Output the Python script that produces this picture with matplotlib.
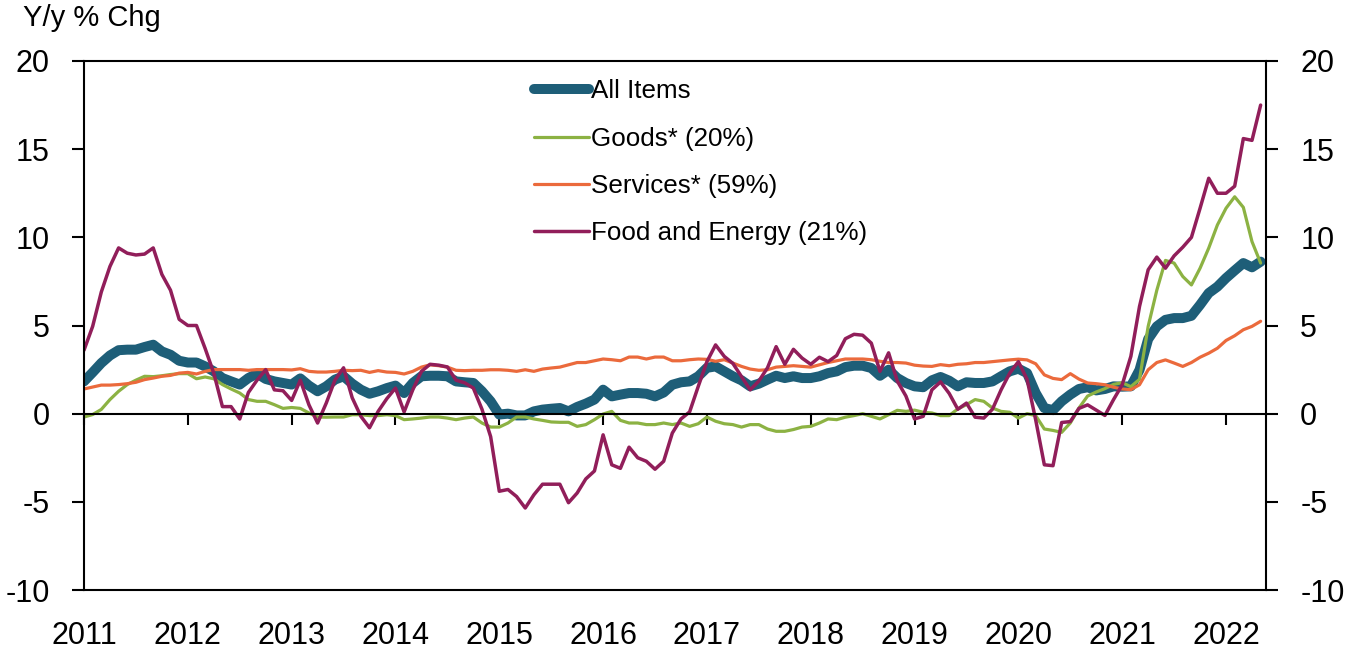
import numpy as np
import matplotlib
matplotlib.use("Agg")
import matplotlib.pyplot as plt
from matplotlib import font_manager

# Monthly y/y % change, Jan 2011 - May 2022
allItems = [1.83, 2.34, 2.87, 3.3, 3.6, 3.63, 3.63, 3.78, 3.91, 3.53, 3.34, 3.0,
            2.9, 2.9, 2.68, 2.4, 2.02, 1.83, 1.65, 2.02, 2.27, 1.97, 1.83, 1.74,
            1.65, 2.0, 1.59, 1.27, 1.55, 1.93, 2.12, 1.7, 1.36, 1.13, 1.27, 1.45,
            1.59, 1.17, 1.74, 2.12, 2.15, 2.15, 2.12, 1.83, 1.78, 1.74, 1.27, 0.7,
            -0.05, 0.0, -0.1, -0.1, 0.13, 0.23, 0.28, 0.32, 0.13, 0.38, 0.57, 0.8,
            1.36, 0.98, 1.08, 1.17, 1.17, 1.13, 0.98, 1.2, 1.64, 1.78, 1.83, 2.12,
            2.6, 2.68, 2.4, 2.12, 1.89, 1.55, 1.7, 1.93, 2.15, 2.02, 2.12, 2.02,
            2.02, 2.12, 2.3, 2.4, 2.64, 2.72, 2.72, 2.59, 2.15, 2.49, 2.02, 1.74,
            1.55, 1.5, 1.89, 2.08, 1.87, 1.55, 1.78, 1.74, 1.74, 1.83, 2.12, 2.4,
            2.55, 2.3, 1.17, 0.32, 0.2, 0.7, 1.08, 1.4, 1.5, 1.32, 1.4, 1.55,
            1.53, 1.55, 2.48, 4.23, 4.95, 5.32, 5.42, 5.42, 5.55, 6.17, 6.84, 7.2,
            7.69, 8.12, 8.54, 8.3, 8.62]

goods = [-0.19, -0.05, 0.24, 0.8, 1.27, 1.65, 1.9, 2.12, 2.1, 2.15, 2.22, 2.27,
         2.27, 1.98, 2.08, 1.98, 1.65, 1.4, 1.17, 0.8, 0.7, 0.7, 0.51, 0.3,
         0.35, 0.3, 0.04, -0.19, -0.2, -0.19, -0.19, -0.06, -0.06, -0.11, -0.11, -0.06,
         -0.11, -0.34, -0.3, -0.25, -0.19, -0.19, -0.25, -0.34, -0.25, -0.19, -0.53, -0.76,
         -0.76, -0.53, -0.19, -0.19, -0.3, -0.38, -0.47, -0.49, -0.49, -0.72, -0.62, -0.34,
         -0.02, 0.13, -0.38, -0.53, -0.53, -0.62, -0.62, -0.53, -0.62, -0.53, -0.72, -0.57,
         -0.19, -0.43, -0.57, -0.62, -0.76, -0.62, -0.62, -0.87, -1.0, -1.0, -0.9, -0.76,
         -0.72, -0.53, -0.3, -0.34, -0.2, -0.11, 0.0, -0.15, -0.3, -0.06, 0.19, 0.13,
         0.2, 0.08, 0.04, -0.11, -0.11, 0.27, 0.51, 0.8, 0.7, 0.32, 0.13, 0.08,
         -0.25, 0.0, -0.11, -0.87, -0.95, -1.06, -0.53, 0.32, 1.0, 1.23, 1.42, 1.66,
         1.76, 1.53, 1.95, 4.95, 7.0, 8.69, 8.54, 7.78, 7.3, 8.25, 9.39, 10.7,
         11.65, 12.3, 11.7, 9.76, 8.54]

services = [1.4, 1.51, 1.62, 1.62, 1.65, 1.7, 1.78, 1.93, 2.02, 2.12, 2.17, 2.3,
            2.34, 2.25, 2.4, 2.5, 2.5, 2.5, 2.5, 2.46, 2.5, 2.5, 2.5, 2.5,
            2.48, 2.55, 2.4, 2.36, 2.36, 2.4, 2.46, 2.44, 2.46, 2.34, 2.44, 2.36,
            2.34, 2.25, 2.4, 2.64, 2.77, 2.72, 2.64, 2.46, 2.44, 2.46, 2.46, 2.49,
            2.49, 2.46, 2.4, 2.49, 2.4, 2.53, 2.59, 2.64, 2.77, 2.9, 2.9, 3.0,
            3.1, 3.06, 3.0, 3.21, 3.21, 3.1, 3.21, 3.21, 3.0, 3.0, 3.06, 3.1,
            3.08, 2.97, 3.06, 2.87, 2.68, 2.53, 2.46, 2.49, 2.64, 2.68, 2.72, 2.68,
            2.64, 2.77, 2.9, 3.0, 3.1, 3.1, 3.1, 3.06, 2.97, 2.9, 2.9, 2.87,
            2.75, 2.7, 2.68, 2.78, 2.72, 2.8, 2.83, 2.9, 2.9, 2.95, 3.0, 3.05,
            3.09, 3.05, 2.83, 2.2, 2.0, 1.93, 2.27, 1.96, 1.74, 1.7, 1.64, 1.5,
            1.4, 1.36, 1.64, 2.49, 2.9, 3.05, 2.87, 2.68, 2.9, 3.2, 3.43, 3.71,
            4.15, 4.42, 4.76, 4.95, 5.24]

foodEnergy = [3.6, 4.95, 6.9, 8.35, 9.4, 9.1, 9.0, 9.05, 9.4, 7.9, 7.0, 5.35,
              5.0, 5.0, 3.7, 2.3, 0.4, 0.4, -0.3, 1.2, 1.9, 2.5, 1.35, 1.3,
              0.75, 1.9, 0.5, -0.53, 0.6, 1.9, 2.6, 0.9, -0.15, -0.8, 0.13, 0.85,
              1.45, 0.1, 1.35, 2.4, 2.8, 2.75, 2.65, 1.9, 1.75, 1.45, 0.25, -1.3,
              -4.4, -4.3, -4.7, -5.35, -4.6, -4.0, -4.0, -4.0, -5.05, -4.5, -3.7, -3.25,
              -1.2, -2.9, -3.1, -1.9, -2.5, -2.7, -3.15, -2.7, -1.1, -0.3, 0.1, 1.55,
              2.95, 3.9, 3.25, 2.85, 2.1, 1.35, 1.85, 2.6, 3.8, 2.8, 3.65, 3.15,
              2.8, 3.2, 2.95, 3.3, 4.25, 4.5, 4.45, 4.0, 2.4, 3.45, 1.85, 1.0,
              -0.3, -0.15, 1.35, 1.8, 1.15, 0.25, 0.6, -0.2, -0.25, 0.25, 1.35, 2.3,
              2.95, 1.95, -0.35, -2.9, -2.95, -0.5, -0.45, 0.3, 0.5, 0.2, -0.1, 0.8,
              1.64, 3.25, 6.08, 8.16, 8.88, 8.25, 8.95, 9.44, 10.0, 11.65, 13.35, 12.5,
              12.5, 12.9, 15.6, 15.5, 17.5]

labels = ["All Items", "Goods* (20%)", "Services* (59%)", "Food and Energy (21%)"]
colors = ["#1e5e78", "#8cb243", "#eb6a3c", "#911e5a"]
widths = [7.2, 2.3, 2.3, 2.5]

yearTicks = list(range(2011, 2023))
yTicks = [-10, -5, 0, 5, 10, 15, 20]

dates = 2011 + np.arange(len(allItems)) / 12.0

# Narrow font if there is one
names = {f.name for f in font_manager.fontManager.ttflist}
if "Liberation Sans Narrow" in names:
    font = "Liberation Sans Narrow"
    tickSize, legendSize, titleSize = 27, 20, 25
else:
    font = "Liberation Sans"
    tickSize, legendSize, titleSize = 22, 18.7, 21
plt.rcParams["font.family"] = [font, "DejaVu Sans"]

fig = plt.figure(figsize=(13.52, 6.55), dpi=100)
ax = fig.add_axes([84 / 1352, 65 / 655, 1182 / 1352, 529 / 655])

series = [allItems, goods, services, foodEnergy]
for s, lab, c, w in zip(series, labels, colors, widths):
    ax.plot(dates, s, color=c, lw=w, label=lab,
            solid_capstyle="round", solid_joinstyle="round")

ax.set_xlim(2011, 2022.385)
ax.set_ylim(-10, 20)

# zero line carries the year tick marks
ax.spines["bottom"].set_position(("data", 0))
for sp in ax.spines.values():
    sp.set_linewidth(1.5)
ax.set_xticks(yearTicks)
ax.tick_params(axis="x", direction="out", length=8, width=1.5, labelbottom=False)

# year labels below the frame
sec = ax.secondary_xaxis(0)
sec.set_xticks(yearTicks)
sec.set_xticklabels([str(y) for y in yearTicks])
sec.tick_params(length=0, pad=22, labelsize=tickSize)
sec.spines["bottom"].set_linewidth(1.5)

ax.set_yticks(yTicks)
ax.set_yticklabels([str(v) for v in yTicks])
ax.tick_params(axis="y", direction="out", length=8.6, width=1.5, pad=16,
               labelsize=tickSize, left=True, right=True,
               labelleft=True, labelright=True)

fig.text(23 / 1352, 1 - 4 / 655, "Y/y % Chg", fontsize=titleSize, va="top", ha="left")

ax.legend(loc="upper left", bbox_to_anchor=(0.37, 0.99), frameon=False,
          fontsize=legendSize, borderpad=0, handlelength=2.1,
          handletextpad=0.08, labelspacing=0.9)

fig.savefig("out.png", dpi=100)
